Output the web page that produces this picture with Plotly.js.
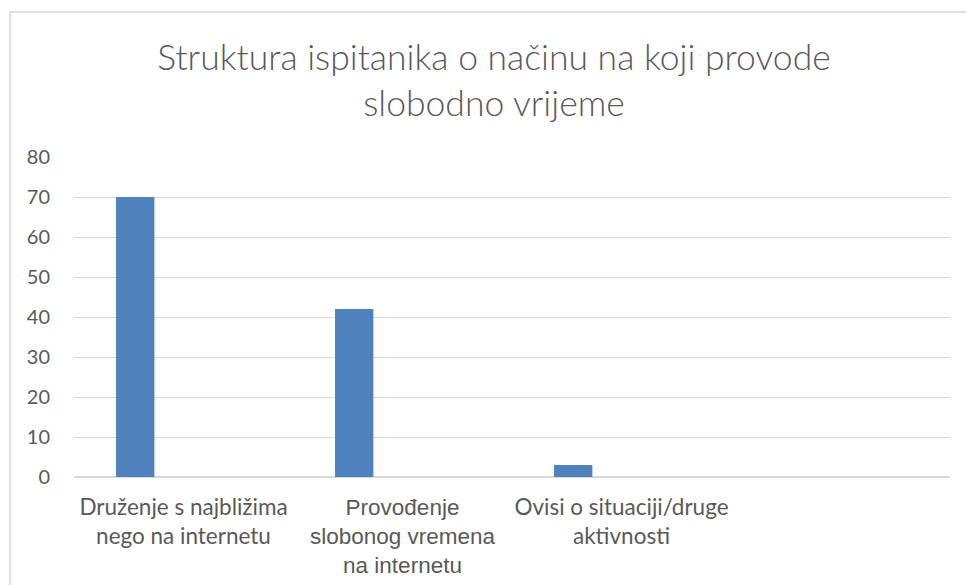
<!DOCTYPE html>
<html>
<head>
<meta charset="utf-8">
<script src="https://cdn.plot.ly/plotly-3.0.1.min.js"></script>
<style>html,body{margin:0;padding:0;background:#fff;}#chart{width:966px;height:585px;}</style>
</head>
<body>
<div id="chart"></div>
<script>
const categories = ["Druženje s najbližima<br>nego na internetu", "<span style=\"font-family:'Liberation Sans',Arial,sans-serif;font-size:22.5px\">Provođenje<br>slobonog vremena<br>na internetu</span>", "Ovisi o situaciji/druge<br>aktivnosti", " "];
const values = [70, 42, 3, null];
const yTicks = [0, 10, 20, 30, 40, 50, 60, 70, 80];
const titleText = "Struktura ispitanika o načinu na koji provode<br>slobodno vrijeme";

const L = 74, R = 950, T = 157, B = 477, W = 966, H = 585;
const px = v => (v - L) / (R - L);
const py = v => (B - v) / (B - T);

const trace = {
  type: 'bar',
  x: categories,
  y: values,
  width: 0.175,
  offset: -0.308,
  marker: {color: '#4F81BD', line: {width: 0}},
  hoverinfo: 'none'
};

const layout = {
  width: W, height: H,
  paper_bgcolor: '#ffffff', plot_bgcolor: '#ffffff',
  margin: {l: L, r: W - R, t: T, b: H - B, pad: 0},
  showlegend: false,
  font: {family: 'Lato, sans-serif', color: '#595959', size: 20},
  title: {
    text: titleText,
    font: {family: 'Lato, sans-serif', size: 35.5, color: '#595959', weight: 300},
    x: 494 / W, xref: 'container', xanchor: 'center',
    y: 1 - 70 / H, yref: 'container', yanchor: 'top'
  },
  xaxis: {
    type: 'category',
    range: [-0.5, 3.5],
    showgrid: false, zeroline: false, showline: false,
    ticks: '',
    tickfont: {family: 'Lato, sans-serif', size: 22.5, color: '#595959'},
    ticklabelstandoff: 14
  },
  yaxis: {
    range: [0, 80],
    tickvals: yTicks,
    ticktext: yTicks.map(String),
    showgrid: true, gridcolor: '#d9d9d9', gridwidth: 1,
    zeroline: true, zerolinecolor: '#d9d9d9', zerolinewidth: 1.5,
    showline: false, ticks: '',
    tickfont: {family: 'Lato, sans-serif', size: 20, color: '#595959'},
    ticklabelstandoff: 23
  },
  shapes: [
    {type: 'line', xref: 'paper', yref: 'paper', x0: px(10), x1: px(10), y0: py(12), y1: py(590), line: {color: '#d6d6d6', width: 1.5}},
    {type: 'line', xref: 'paper', yref: 'paper', x0: px(10), x1: px(970), y0: py(12), y1: py(12), line: {color: '#d6d6d6', width: 1.5}}
  ]
};

Plotly.newPlot('chart', [trace], layout, {staticPlot: true, displayModeBar: false});
</script>
</body>
</html>
